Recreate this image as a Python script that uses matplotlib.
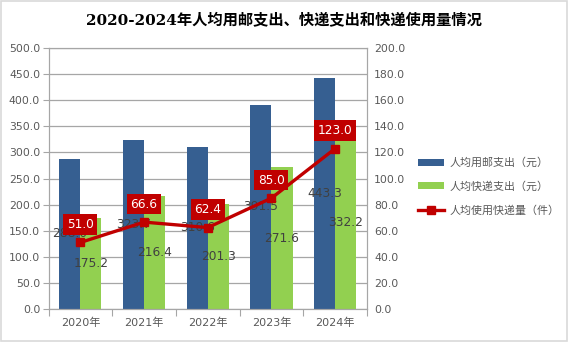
import matplotlib
matplotlib.use("Agg")
import matplotlib.pyplot as plt
from matplotlib.lines import Line2D
from matplotlib.patches import Patch, Rectangle

plt.rcParams['font.family'] = ['DejaVu Sans', 'Noto Sans CJK SC']

years = ["2020年", "2021年", "2022年", "2023年", "2024年"]
postal = [288.0, 323.7, 310.6, 391.5, 443.3]
express = [175.2, 216.4, 201.3, 271.6, 332.2]
usage = [51.0, 66.6, 62.4, 85.0, 123.0]
series_names = ["人均用邮支出（元）", "人均快递支出（元）", "人均使用快递量（件）"]
title = "2020-2024年人均用邮支出、快递支出和快递使用量情况"

blue = "#365F91"
green = "#92D050"
red = "#C00000"
txt = "#595959"
gridc = "#A6A6A6"

fig = plt.figure(figsize=(5.68, 3.42), dpi=100)
fig.patches.append(Rectangle((0.001, 0.002), 0.997, 0.995, transform=fig.transFigure,
                             fill=False, edgecolor="#D9D9D9", linewidth=1.2))

ax = fig.add_axes([0.0854, 0.0965, 0.5608, 0.763])
x = list(range(len(years)))
w = 0.33
b1 = ax.bar([i - w / 2 for i in x], postal, width=w, color=blue, zorder=2)
b2 = ax.bar([i + w / 2 for i in x], express, width=w, color=green, zorder=2)
ax.bar_label(b1, labels=[f"{v:.1f}" for v in postal], label_type="center",
             fontsize=8.8, color="#404040")
ax.bar_label(b2, labels=[f"{v:.1f}" for v in express], label_type="center",
             fontsize=8.8, color="#404040")

ax.set_ylim(0, 500)
ax.set_yticks(range(0, 501, 50))
ax.set_yticklabels([f"{v:.1f}" for v in range(0, 501, 50)])
ax.set_xlim(-0.5, 4.5)
ax.set_xticks([i - 0.5 for i in range(6)])
ax.set_xticklabels([])
ax.set_xticks(x, minor=True)
ax.set_xticklabels(years, minor=True)
ax.tick_params(axis="x", which="minor", length=0, labelsize=8, labelcolor=txt, pad=6)
ax.tick_params(axis="x", which="major", length=5, color=gridc)
ax.tick_params(axis="y", labelsize=7.8, labelcolor=txt, length=4, color=gridc, pad=2)
ax.grid(axis="y", color=gridc, linewidth=0.9, zorder=0)
ax.set_axisbelow(True)
for s in ax.spines.values():
    s.set_color(gridc)

ax2 = ax.twinx()
ax2.plot(x, usage, color=red, linewidth=2.4, marker="s", markersize=6, zorder=5)
ax2.set_ylim(0, 200)
ax2.set_yticks(range(0, 201, 20))
ax2.set_yticklabels([f"{v:.1f}" for v in range(0, 201, 20)])
ax2.tick_params(axis="y", labelsize=7.8, labelcolor=txt, length=0, pad=5)
for s in ax2.spines.values():
    s.set_color(gridc)
for i, v in enumerate(usage):
    ax2.annotate(f"{v:.1f}", (i, v), xytext=(0, 13), textcoords="offset points",
                 ha="center", va="center", color="white", fontsize=8.7,
                 bbox=dict(boxstyle="square,pad=0.3", facecolor=red, edgecolor="none"),
                 zorder=6)

fig.text(0.5, 0.94, title, ha="center", va="center", fontsize=11,
         fontweight="bold", family=["DejaVu Serif", "Noto Sans CJK SC"], color="black")

handles = [Patch(facecolor=blue), Patch(facecolor=green),
           Line2D([0], [0], color=red, linewidth=2.4, marker="s", markersize=6)]
fig.legend(handles, series_names, loc="center left", bbox_to_anchor=(0.718, 0.455),
           frameon=False, handlelength=2.4,
           handleheight=0.6, labelspacing=1.2, handletextpad=0.5,
           prop={"family": ["Noto Sans CJK SC"], "size": 7.9}, labelcolor=txt)

fig.savefig("out.png", dpi=100)
